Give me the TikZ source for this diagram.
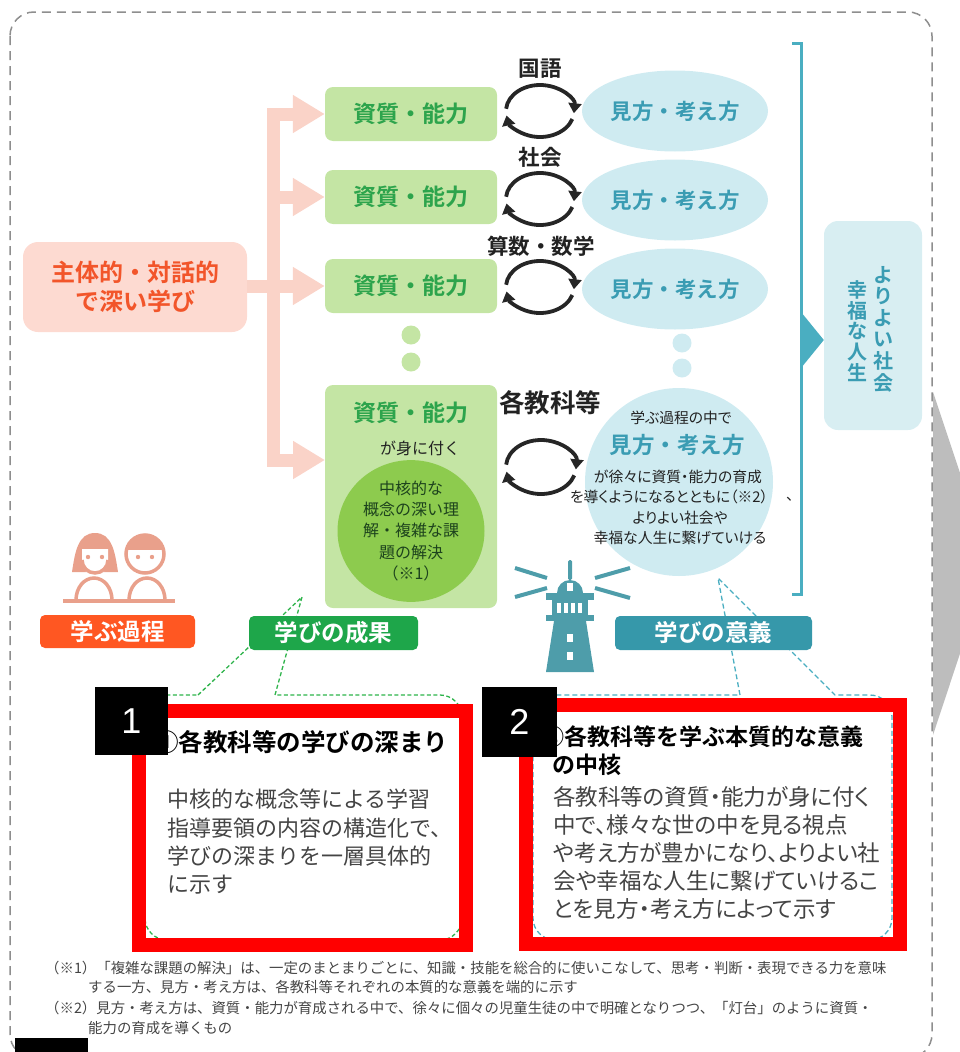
\documentclass[tikz,border=0pt]{standalone}
\usepackage{fontspec}
\setmainfont{Noto Sans CJK JP}[BoldFont={Noto Sans CJK JP Bold}]
\newfontfamily\pfont{Noto Sans CJK JP}[BoldFont={Noto Sans CJK JP Bold}, RawFeature=+palt]
\newfontfamily\latinsans{Liberation Sans}
\usetikzlibrary{arrows.meta,shapes.geometric}
\newcommand\fsz[2]{\fontsize{#1}{#2}\selectfont}

\definecolor{pkfill}{HTML}{FDDAD1}
\definecolor{pkline}{HTML}{FAD3C8}
\definecolor{pktext}{HTML}{F2552A}
\definecolor{gfill}{HTML}{C4E5A4}
\definecolor{gtext}{HTML}{2DA44C}
\definecolor{gcore}{HTML}{8DCB4E}
\definecolor{cfill}{HTML}{CFEBF1}
\definecolor{ctext}{HTML}{3A9CB3}
\definecolor{tealb}{HTML}{4AAEC1}
\definecolor{goalfill}{HTML}{D8EEF2}
\definecolor{lborange}{HTML}{FF5722}
\definecolor{lbgreen}{HTML}{1EA64A}
\definecolor{lbteal}{HTML}{3698AA}
\definecolor{salmon}{HTML}{E9A08B}
\definecolor{lhouse}{HTML}{4E9DAA}
\definecolor{darktx}{HTML}{222222}
\definecolor{graytx}{HTML}{444444}
\definecolor{frame}{HTML}{8E8E8E}
\definecolor{chev}{HTML}{BDBDBD}
\definecolor{gdash}{HTML}{2DB34A}

\tikzset{
  ptip/.tip={Triangle[width=36pt,length=32pt]},
  ctip/.tip={Triangle[width=13pt,length=10pt]}
}

\begin{document}
\begin{tikzpicture}[x=1pt,y=-1pt,
  gbox/.style={fill=gfill, rounded corners=8pt, minimum width=172pt, minimum height=54pt,
    inner sep=0pt, text=gtext, font=\bfseries\fsz{23}{26}},
  view/.style={ellipse, fill=cfill, minimum width=186pt, minimum height=81pt, inner sep=0pt,
    text=ctext, font=\bfseries\fsz{21.5}{25}},
  subj/.style={text=darktx, font=\bfseries\fsz{21.5}{25}, inner sep=0pt},
  pline/.style={draw=pkline, line width=13pt},
  cyc/.style={draw=black!85, line width=3.8pt, -ctip},
  dot/.style={circle, minimum size=19pt, inner sep=0pt},
  tag/.style={rounded corners=5pt, inner sep=0pt, text=white, font=\bfseries\fsz{23.5}{26}},
  small/.style={text=darktx, inner sep=0pt, font=\pfont\fsz{14.8}{17}},
  body/.style={text=graytx, inner sep=0pt, align=left},
  note/.style={text=graytx, inner sep=0pt, anchor=west, font=\fsz{14.4}{17}},
  redframe/.style={draw=red, line width=14pt},
  numbox/.style={fill=black, text=white, inner sep=0pt, font=\latinsans\fsz{36}{40}}
]
\useasboundingbox (0,0) rectangle (960,1052);

% outer dashed frame and the grey chevron on its right
\draw[frame, line width=1.5pt, dash pattern=on 9pt off 6pt, rounded corners=24pt]
  (10,12) rectangle (932,1058);
\fill[chev] (933,392) -- (990,563) -- (933,735) -- cycle;

% learning process box and the pink distribution arrows
\node[fill=pkfill, rounded corners=15pt, minimum width=224pt, minimum height=90pt, inner sep=0pt,
  text=pktext, align=center, font=\bfseries\fsz{24}{29}] (src) at (135,287) {主体的・対話的\\で深い学び};

\node[gbox] (g1) at (411,114) {資質・能力};
\node[gbox] (g2) at (411,197) {資質・能力};
\node[gbox] (g3) at (411,286) {資質・能力};
\node[gbox, minimum height=223pt] (g4) at (411,496.5) {};
\node[dot, fill=gfill] (gd1) at (411,335) {};
\node[dot, fill=gfill] (gd2) at (411,362) {};

\coordinate (tk) at (273,0);
\coordinate (g4in) at (325,460);
\draw[pline, ptip-ptip] (g1.west) -- (tk |- g1.west) -- (tk |- g4in) -- (g4in);
\draw[pline, -ptip] (tk |- g2.west) -- (g2.west);
\draw[pline, -ptip] (src.east |- g3.west) -- (g3.west);

% contents of the large competence box
\node[text=gtext, font=\bfseries\fsz{23}{26}, inner sep=0pt] (g4t) at (411,413) {資質・能力};
\node[text=darktx, font=\fsz{16}{19}, inner sep=0pt] (g4s) at (420,448) {が身に付く};
\node[ellipse, fill=gcore, minimum width=147pt, minimum height=132pt, inner sep=0pt,
  align=center, text=darktx!85!green, font=\fsz{16}{21.3}] (core) at (411,531)
  {中核的な\\概念の深い理\\解・複雑な課\\題の解決\\（※1）};

% subjects with their reciprocal arrows
\node[subj] (s1) at (540,69) {国語};
\node[subj] (s2) at (540,157) {社会};
\node[subj] (s3) at (541,246) {算数・数学};
\node[subj, font=\bfseries\fsz{25.5}{28}] (s4) at (550,403) {各教科等};

\foreach \cx/\cy/\rx/\ry in {540/111/34/26, 540/199/34/26, 540/287/34/26, 541/467/35/27}{
  \coordinate (cc) at (\cx,\cy);
  \draw[cyc] (cc) ++(175:\rx pt and \ry pt)
    arc[start angle=175, end angle=-5, x radius=\rx pt, y radius=\ry pt];
  \draw[cyc] (cc) ++(-18:\rx pt and \ry pt)
    arc[start angle=-18, end angle=-170, x radius=\rx pt, y radius=\ry pt];
}

% ways of seeing and thinking
\node[view] (v1) at (675,111) {見方・考え方};
\node[view] (v2) at (675,200) {見方・考え方};
\node[view] (v3) at (675,289) {見方・考え方};
\node[dot, fill=cfill] (vd1) at (682,343) {};
\node[dot, fill=cfill] (vd2) at (682,368) {};
\node[circle, fill=cfill, minimum size=188pt, inner sep=0pt] (v4) at (679,482) {};
\node[small] (t1) at (681,418) {学ぶ過程の中で};
\node[text=ctext, font=\bfseries\fsz{22.5}{26}, inner sep=0pt] (t2) at (677,445) {見方・考え方};
\node[small] (t3) at (678,477) {が徐々に資質・能力の育成};
\node[small] (t4) at (669,497) {を導くようになるとともに（※2）};
\node[small] (t4b) at (790,499) {、};
\node[small] (t5) at (680,518) {よりよい社会や};
\node[small] (t6) at (680,538) {幸福な人生に繋げていける};

% bracket leading to the goal
\draw[tealb, line width=3pt] (792,43) -- (801,43) -- (801,594) -- (792,594);
\node[fill=goalfill, rounded corners=14pt, minimum width=98pt, minimum height=209pt, inner sep=0pt]
  (goal) at (873,325.5) {};
\fill[tealb] (801,312) -- (goal.west |- 0,340) -- (801,368) -- cycle;
\node[text=ctext, font=\bfseries\fsz{20}{21.6}, align=center, inner sep=0pt] (goalA) at (883,329)
  {よ\\り\\よ\\い\\社\\会};
\node[text=ctext, font=\bfseries\fsz{20}{20.6}, align=center, inner sep=0pt] (goalB) at (857,331)
  {幸\\福\\な\\人\\生};

% two learners
\fill[salmon] (72,572) .. controls (75,552) and (78,533) .. (95,533)
  .. controls (112,533) and (115,552) .. (118,572) -- cycle;
\fill[white] (82,549) -- (108,549) -- (108,562) arc[start angle=0, end angle=-180, radius=13pt] -- cycle;
\draw[salmon, line width=3.5pt] (108,560) arc[start angle=0, end angle=-180, radius=13pt];
\fill[salmon] (88,557) circle[radius=2.2pt] (102,557) circle[radius=2.2pt];
\draw[salmon, line width=3.5pt] (145,554) circle[radius=19pt];
\begin{scope}
  \clip (120,525) rectangle (170,549);
  \fill[salmon] (145,554) circle[radius=20pt];
\end{scope}
\fill[salmon] (138,557) circle[radius=2.2pt] (152,557) circle[radius=2.2pt];
\draw[salmon, line width=3.5pt] (76,600) arc[start angle=180, end angle=0, x radius=18pt, y radius=22pt];
\draw[salmon, line width=3.5pt] (129,600) arc[start angle=180, end angle=0, x radius=18pt, y radius=22pt];
\draw[salmon, line width=4pt] (63,601) -- (175,601);

% lighthouse
\begin{scope}[lhouse]
  \draw[line width=4pt] (515,568) -- (547,578) (515,597) -- (547,588)
    (595,578) -- (630,568) (595,588) -- (630,598);
  \fill[rounded corners=1.5pt] (568,560) rectangle (572,580);
  \fill (557,593) arc[start angle=180, end angle=0, radius=13pt] -- cycle;
  \fill (546,593) rectangle (594,600);
  \fill (552,600) rectangle (588,616);
  \fill (546,615) rectangle (594,621);
  \fill (554,621) -- (586,621) -- (594,672) -- (546,672) -- cycle;
\end{scope}
\fill[white] (567,583) rectangle (573,591);
\foreach \wx in {557,564,571,578}{ \fill[white] (\wx,603) rectangle (\wx+4,613); }
\fill[white] (567,634) rectangle (573,642);
\fill[white] (567,652) rectangle (573,660);

% speech bubbles below
\draw[gdash, line width=1.3pt, dash pattern=on 4pt off 2.5pt]
  (198,695) -- (302,597) -- (275,695) -- (440,695)
  arc[start angle=90, end angle=0, radius=22pt] -- (462,918)
  arc[start angle=0, end angle=-90, radius=22pt] -- (167,940)
  arc[start angle=-90, end angle=-180, radius=22pt] -- (145,717)
  arc[start angle=180, end angle=90, radius=22pt] -- cycle;
\draw[tealb, line width=1.3pt, dash pattern=on 5pt off 3pt]
  (740,695) -- (718,578) -- (835,695) -- (870,695)
  arc[start angle=90, end angle=0, radius=22pt] -- (892,918)
  arc[start angle=0, end angle=-90, radius=22pt] -- (555,940)
  arc[start angle=-90, end angle=-180, radius=22pt] -- (533,717)
  arc[start angle=180, end angle=90, radius=22pt] -- cycle;

% section tags
\node[tag, fill=lborange, minimum width=155pt, minimum height=33pt] (tagA) at (117.5,631.5) {学ぶ過程};
\node[tag, fill=lbgreen, minimum width=169pt, minimum height=34pt] (tagB) at (333.5,633) {学びの成果};
\node[tag, fill=lbteal, minimum width=197pt, minimum height=34pt] (tagC) at (713.5,633) {学びの意義};

% text of the bubbles
\node[text=black, font=\bfseries\fsz{24.5}{28}, inner sep=0pt, anchor=west] (h1) at (154,742)
  {①各教科等の学びの深まり};
\node[body, font=\fsz{22}{28.3}, anchor=north west] (b1) at (167,789)
  {中核的な概念等による学習\\指導要領の内容の構造化で、\\学びの深まりを一層具体的\\に示す};
\node[text=black, font=\bfseries\fsz{23}{28}, inner sep=0pt, anchor=north west, align=left] (h2) at (541,726)
  {②各教科等を学ぶ本質的な意義\\\hspace*{11pt}の中核};
\node[body, font=\pfont\fsz{22.5}{28}, anchor=north west] (b2) at (553,786)
  {各教科等の資質・能力が身に付く\\中で、様々な世の中を見る視点\\や考え方が豊かになり、よりよい社\\会や幸福な人生に繋げていけるこ\\とを見方・考え方によって示す};

% highlight frames and their numbers
\draw[redframe] (139,711) rectangle (466,945);
\draw[redframe] (526,705) rectangle (899.5,943.5);
\node[numbox, minimum width=73pt, minimum height=68pt] (n1) at (131.5,721) {1};
\node[numbox, minimum width=75pt, minimum height=70pt] (n2) at (519.5,722) {2};

% footnotes
\node[note] (f1) at (45,968) {（※1）「複雑な課題の解決」は、一定のまとまりごとに、知識・技能を総合的に使いこなして、思考・判断・表現できる力を意味};
\node[note] (f2) at (88,987) {する一方、見方・考え方は、各教科等それぞれの本質的な意義を端的に示す};
\node[note] (f3) at (45,1008) {（※2）見方・考え方は、資質・能力が育成される中で、徐々に個々の児童生徒の中で明確となりつつ、「灯台」のように資質・};
\node[note] (f4) at (88,1028) {能力の育成を導くもの};

\fill[black] (15,1038) rectangle (88,1052);
\end{tikzpicture}
\end{document}
